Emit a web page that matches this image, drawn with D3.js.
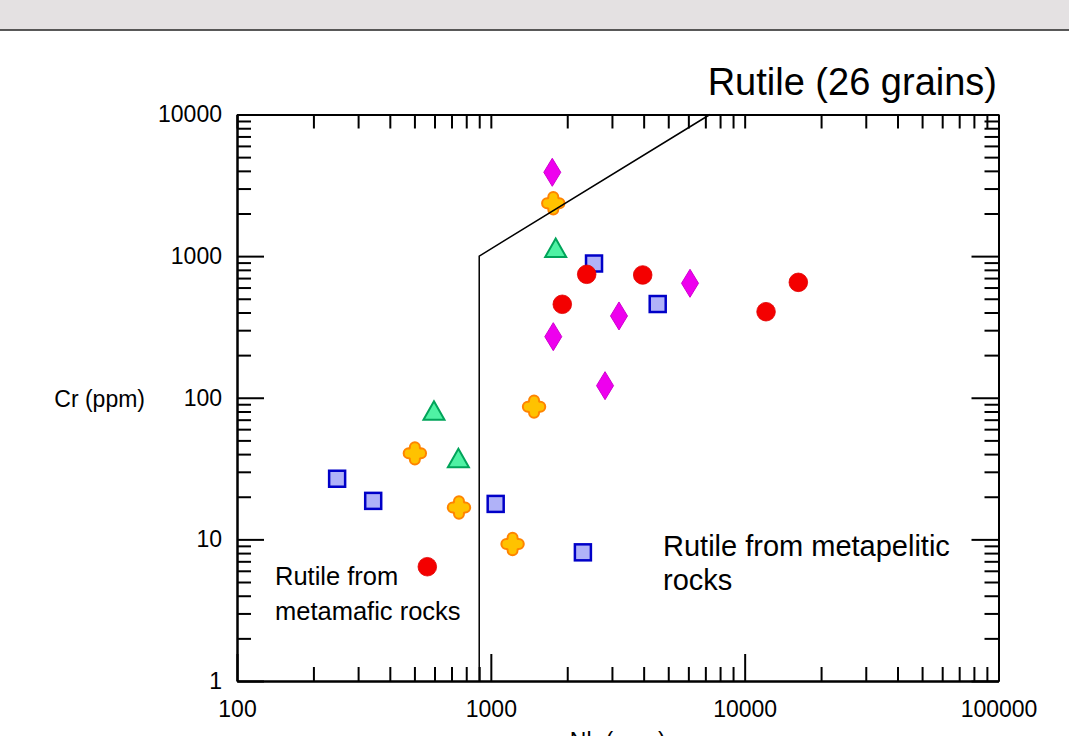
<!DOCTYPE html>
<html>
<head>
<meta charset="utf-8">
<script src="https://cdn.jsdelivr.net/npm/d3@7"></script>
<style>
  html, body { margin: 0; padding: 0; background: #fff; }
  svg { display: block; }
  text { font-family: "Liberation Sans", Arial, Helvetica, sans-serif; fill: #000; }
</style>
</head>
<body>
<svg id="chart" width="1069" height="736"></svg>
<script>
// ---- Data (Nb ppm, Cr ppm) ----
const squareNb   = [2550, 4544, 248, 344, 1045, 2305];
const squareCr   = [887, 459, 26.8, 18.7, 17.8, 8.1];
const triangleNb = [1801, 597, 745];
const triangleCr = [1141, 80.9, 37.4];
const diamondNb  = [1746, 1762, 3198, 2818, 6091];
const diamondCr  = [3908, 270, 378, 121.7, 643];
const crossNb    = [1762, 502, 1480, 749, 1218];
const crossCr    = [2360, 40.5, 86.5, 16.8, 9.28];
const circleNb   = [2386, 1912, 3966, 12140, 16270, 562];
const circleCr   = [744, 457, 736, 405, 653, 6.41];

const boundaryNb = [900, 900, 7300];
const boundaryCr = [1, 1000, 10000];

const xMajorTicks = [100, 1000, 10000, 100000];
const yMajorTicks = [1, 10, 100, 1000, 10000];

const titleText = "Rutile (26 grains)";
const xTitle = "Nb (ppm)";
const yTitle = "Cr (ppm)";
const leftLabel = ["Rutile from", "metamafic rocks"];
const rightLabel = ["Rutile from metapelitic", "rocks"];

// ---- Layout ----
const svg = d3.select("#chart");
const L = 237, R = 998.5, T = 114.5, B = 681;

const x = d3.scaleLog().domain([100, 100000]).range([L, R]);
const y = d3.scaleLog().domain([1, 10000]).range([B, T]);

const xMinor = x.ticks().filter(v => !xMajorTicks.includes(v));
const yMinor = y.ticks().filter(v => !yMajorTicks.includes(v));

// top band
svg.append("rect").attr("x", 0).attr("y", 0).attr("width", 1069).attr("height", 29.5).attr("fill", "#e4e1e2");
svg.append("line").attr("x1", 0).attr("x2", 1069).attr("y1", 30).attr("y2", 30).attr("stroke", "#222").attr("stroke-width", 1.3);

function styleAxis(g) {
  g.select(".domain").attr("stroke", "#000").attr("stroke-width", 2);
  g.selectAll(".tick line").attr("stroke", "#000").attr("stroke-width", 2);
  g.selectAll(".tick text").attr("font-size", 23).attr("fill", "#000")
    .attr("font-family", '"Liberation Sans", Arial, sans-serif');
}
const fmt = d3.format("d");

// bottom
svg.append("g").attr("transform", `translate(0,${B})`)
  .call(d3.axisBottom(x).tickValues(xMinor).tickSize(-14).tickSizeOuter(0).tickFormat("")).call(styleAxis);
svg.append("g").attr("transform", `translate(0,${B})`)
  .call(d3.axisBottom(x).tickValues(xMajorTicks).tickSize(-27).tickSizeOuter(0).tickPadding(20).tickFormat(fmt)).call(styleAxis);
// top
svg.append("g").attr("transform", `translate(0,${T})`)
  .call(d3.axisTop(x).tickValues(x.ticks()).tickSize(-14).tickSizeOuter(0).tickFormat("")).call(styleAxis);
// left
svg.append("g").attr("transform", `translate(${L},0)`)
  .call(d3.axisLeft(y).tickValues(yMinor).tickSize(-14).tickSizeOuter(0).tickFormat("")).call(styleAxis);
svg.append("g").attr("transform", `translate(${L},0)`)
  .call(d3.axisLeft(y).tickValues(yMajorTicks).tickSize(-27).tickSizeOuter(0).tickPadding(15).tickFormat(fmt)).call(styleAxis);
// right
svg.append("g").attr("transform", `translate(${R},0)`)
  .call(d3.axisRight(y).tickValues(yMinor).tickSize(-14).tickSizeOuter(0).tickFormat("")).call(styleAxis);
svg.append("g").attr("transform", `translate(${R},0)`)
  .call(d3.axisRight(y).tickValues(yMajorTicks).tickSize(-27).tickSizeOuter(0).tickFormat("")).call(styleAxis);

// ---- Symbols ----
const pts = (nb, cr) => nb.map((v, i) => [v, cr[i]]);
const gPts = svg.append("g");

// squares
gPts.selectAll(".sq").data(pts(squareNb, squareCr)).join("rect")
  .attr("x", d => x(d[0]) - 8).attr("y", d => y(d[1]) - 8)
  .attr("width", 16).attr("height", 16)
  .attr("fill", "#b0b2f8").attr("stroke", "#0000c8").attr("stroke-width", 2.5);

// triangles (bbox-centred)
const triPath = "M0,-9.5 L10.5,9 L-10.5,9 Z";
gPts.selectAll(".tri").data(pts(triangleNb, triangleCr)).join("path")
  .attr("d", triPath).attr("transform", d => `translate(${x(d[0])},${y(d[1])})`)
  .attr("fill", "#4ff2a4").attr("stroke", "#00a45a").attr("stroke-width", 2);

// diamonds
const diaPath = "M0,-14 L8.5,0 L0,14 L-8.5,0 Z";
gPts.selectAll(".dia").data(pts(diamondNb, diamondCr)).join("path")
  .attr("d", diaPath).attr("transform", d => `translate(${x(d[0])},${y(d[1])})`)
  .attr("fill", "#ee00ee").attr("stroke", "#d000d0").attr("stroke-width", 1);

// crosses (rounded plus)
const h = 5, Lr = 11.2, a = Lr - h, c = h * 0.95;
const crossPath = `M${-h},${-a} A${h},${h} 0 0 1 ${h},${-a} Q${c},${-c} ${a},${-h}` +
  ` A${h},${h} 0 0 1 ${a},${h} Q${c},${c} ${h},${a}` +
  ` A${h},${h} 0 0 1 ${-h},${a} Q${-c},${c} ${-a},${h}` +
  ` A${h},${h} 0 0 1 ${-a},${-h} Q${-c},${-c} ${-h},${-a} Z`;
gPts.selectAll(".cr").data(pts(crossNb, crossCr)).join("path")
  .attr("d", crossPath).attr("transform", d => `translate(${x(d[0])},${y(d[1])})`)
  .attr("fill", "#ffc200").attr("stroke", "#ff8400").attr("stroke-width", 2);

// circles
gPts.selectAll(".ci").data(pts(circleNb, circleCr)).join("circle")
  .attr("cx", d => x(d[0])).attr("cy", d => y(d[1])).attr("r", 9.3)
  .attr("fill", "#f40000").attr("stroke", "#e00000").attr("stroke-width", 0.8);

// boundary line
svg.append("path")
  .datum(pts(boundaryNb, boundaryCr))
  .attr("d", d3.line().x(d => x(d[0])).y(d => y(d[1])))
  .attr("fill", "none").attr("stroke", "#000").attr("stroke-width", 1.5);

// ---- Texts ----
svg.append("text").attr("x", 997).attr("y", 95).attr("text-anchor", "end")
  .attr("font-size", 38).text(titleText);
svg.append("text").attr("x", 145).attr("y", 406.5).attr("text-anchor", "end")
  .attr("font-size", 23).text(yTitle);
svg.append("text").attr("x", (L + R) / 2).attr("y", 749).attr("text-anchor", "middle")
  .attr("font-size", 23).text(xTitle);

leftLabel.forEach((t, i) => {
  svg.append("text").attr("x", 275).attr("y", 585 + i * 35).attr("font-size", 25.5).text(t);
});
rightLabel.forEach((t, i) => {
  svg.append("text").attr("x", 663).attr("y", 556 + i * 34).attr("font-size", 29).text(t);
});
</script>
</body>
</html>
